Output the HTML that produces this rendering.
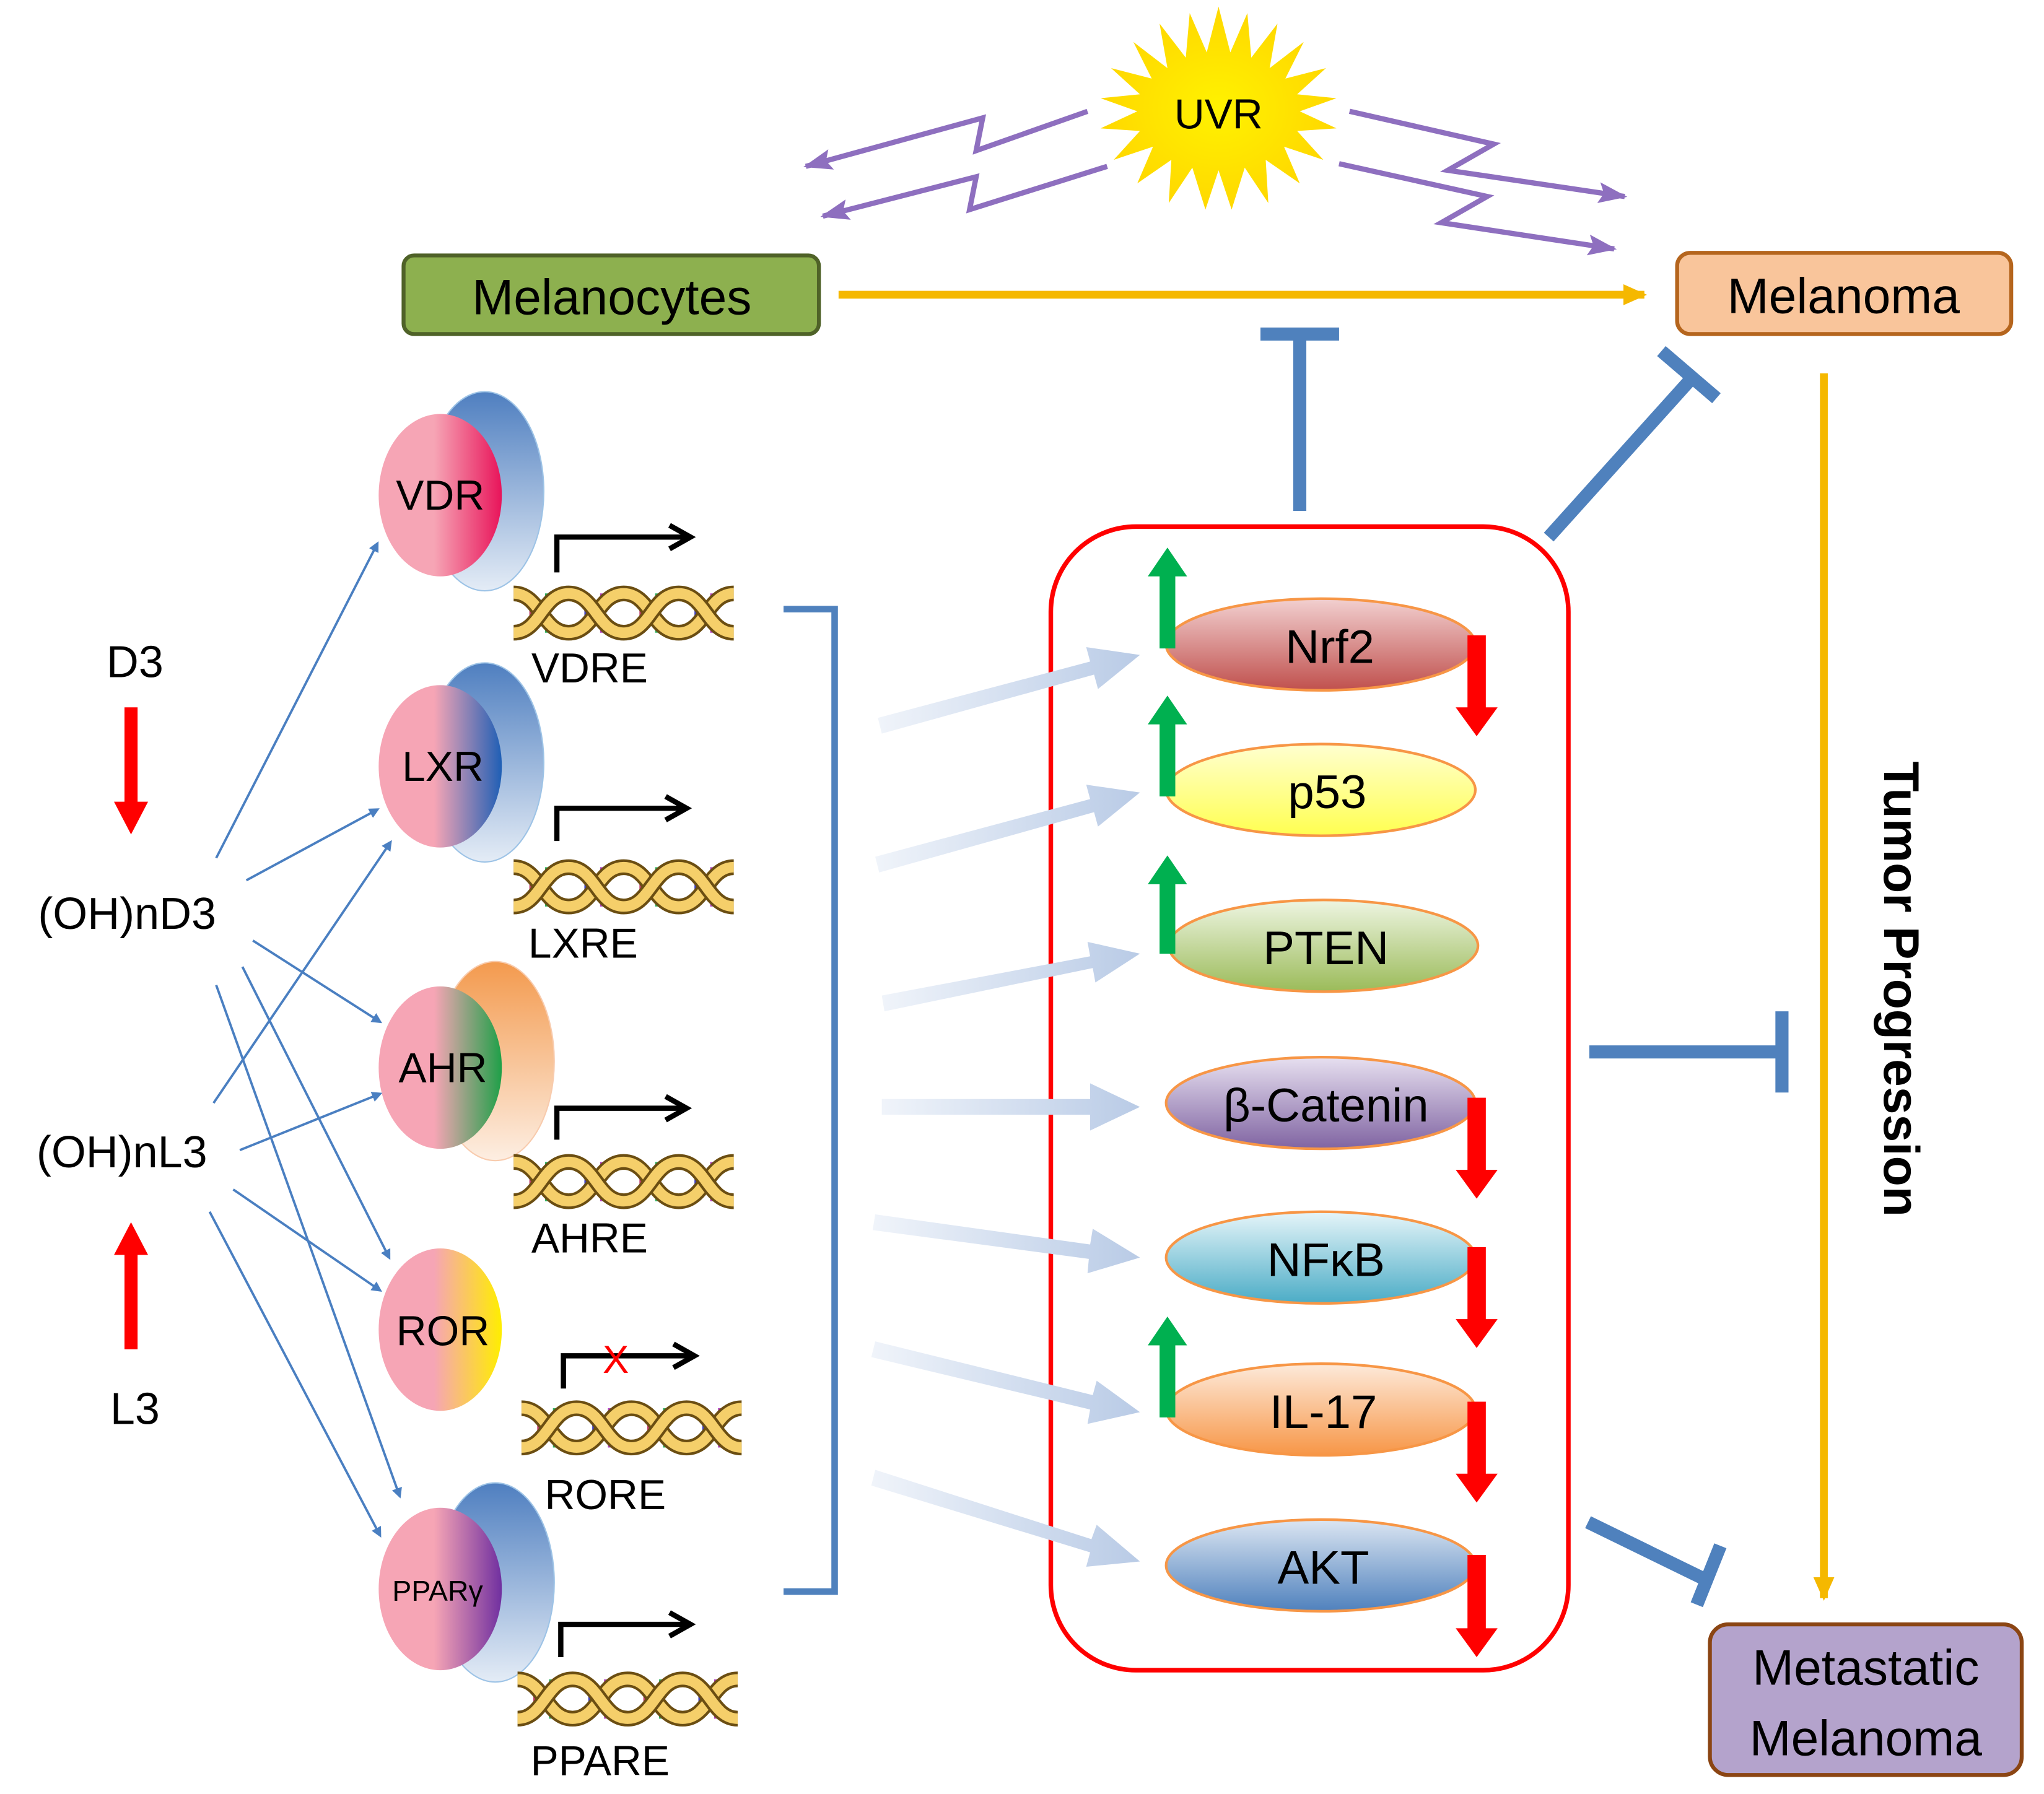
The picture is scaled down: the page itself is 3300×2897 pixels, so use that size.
<!DOCTYPE html>
<html><head><meta charset="utf-8"><style>html,body{margin:0;padding:0;background:#fff}svg{display:block}text{font-family:"Liberation Sans",sans-serif}</style></head><body>
<svg width="3300" height="2897" viewBox="0 0 1560 1369.5" xmlns="http://www.w3.org/2000/svg">
<defs>
<radialGradient id="sun" cx="50%" cy="50%" r="50%"><stop offset="0" stop-color="#fff200"/><stop offset="1" stop-color="#ffd800"/></radialGradient>
<marker id="ah" markerWidth="8" markerHeight="8" refX="6" refY="4" orient="auto" markerUnits="userSpaceOnUse"><path d="M0,0 L8,4 L0,8 Z" fill="#4a7fc1"/></marker>
<marker id="ahp" markerWidth="24" markerHeight="16" refX="20" refY="8" orient="auto" markerUnits="userSpaceOnUse"><path d="M0,0 L22,8 L0,16 L4,8 Z" fill="#8e6fbf"/></marker>
<marker id="ahy" markerWidth="20" markerHeight="20" refX="16" refY="10" orient="auto" markerUnits="userSpaceOnUse"><path d="M0,2 L18,10 L0,18 Z" fill="#f5b800"/></marker>
<marker id="ahk" markerWidth="24" markerHeight="24" refX="18" refY="12" orient="auto" markerUnits="userSpaceOnUse"><path d="M4,3 L20,12 L4,21" fill="none" stroke="#000" stroke-width="4"/></marker>
<linearGradient id="lb" x1="0" y1="0" x2="1" y2="0"><stop offset="0" stop-color="#f0f4fa"/><stop offset="1" stop-color="#b9cbe6"/></linearGradient>
<linearGradient id="gVDR" x1="0" x2="1"><stop offset="0.45" stop-color="#f6a5b5"/><stop offset="1" stop-color="#e8145a"/></linearGradient>
<linearGradient id="gLXR" x1="0" x2="1"><stop offset="0.45" stop-color="#f6a5b5"/><stop offset="1" stop-color="#1f5fb5"/></linearGradient>
<linearGradient id="gAHR" x1="0" x2="1"><stop offset="0.45" stop-color="#f6a5b5"/><stop offset="1" stop-color="#1fa048"/></linearGradient>
<linearGradient id="gROR" x1="0" x2="1"><stop offset="0.45" stop-color="#f6a5b5"/><stop offset="1" stop-color="#ffee00"/></linearGradient>
<linearGradient id="gPPR" x1="0" x2="1"><stop offset="0.45" stop-color="#f6a5b5"/><stop offset="1" stop-color="#7030a0"/></linearGradient>
<linearGradient id="cB" x1="0" y1="0" x2="0" y2="1"><stop offset="0" stop-color="#4f7fc0"/><stop offset="1" stop-color="#e4ecf6"/></linearGradient>
<linearGradient id="cO" x1="0" y1="0" x2="0" y2="1"><stop offset="0" stop-color="#f39a4e"/><stop offset="1" stop-color="#fdeee2"/></linearGradient>
<linearGradient id="eN" x1="0" y1="0" x2="0" y2="1"><stop offset="0" stop-color="#f2d0d0"/><stop offset="1" stop-color="#c0504d"/></linearGradient>
<linearGradient id="eP" x1="0" y1="0" x2="0" y2="1"><stop offset="0" stop-color="#ffffd0"/><stop offset="1" stop-color="#ffff50"/></linearGradient>
<linearGradient id="eT" x1="0" y1="0" x2="0" y2="1"><stop offset="0" stop-color="#eef5e2"/><stop offset="1" stop-color="#9bbb59"/></linearGradient>
<linearGradient id="eC" x1="0" y1="0" x2="0" y2="1"><stop offset="0" stop-color="#e7e0f0"/><stop offset="1" stop-color="#8064a2"/></linearGradient>
<linearGradient id="eF" x1="0" y1="0" x2="0" y2="1"><stop offset="0" stop-color="#e6f5f9"/><stop offset="1" stop-color="#4bacc6"/></linearGradient>
<linearGradient id="eI" x1="0" y1="0" x2="0" y2="1"><stop offset="0" stop-color="#fdeadb"/><stop offset="1" stop-color="#f79646"/></linearGradient>
<linearGradient id="eA" x1="0" y1="0" x2="0" y2="1"><stop offset="0" stop-color="#dce6f2"/><stop offset="1" stop-color="#4f81bd"/></linearGradient>
<g id="dna">
<g stroke-width="4">
<line x1="14" y1="8" x2="14" y2="38" stroke="#c04070"/><line x1="26" y1="8" x2="26" y2="38" stroke="#30b060"/><line x1="56" y1="8" x2="56" y2="38" stroke="#4040c0"/><line x1="68" y1="8" x2="68" y2="38" stroke="#b040c0"/>
<line x1="98" y1="8" x2="98" y2="38" stroke="#c04070"/><line x1="110" y1="8" x2="110" y2="38" stroke="#30b060"/><line x1="140" y1="8" x2="140" y2="38" stroke="#4040c0"/><line x1="152" y1="8" x2="152" y2="38" stroke="#b040c0"/>
</g>
<path d="M0,8 C20,8 22,38 42,38 C62,38 64,8 84,8 C104,8 106,38 126,38 C146,38 148,8 168,8" fill="none" stroke="#6b4e12" stroke-width="12"/>
<path d="M0,8 C20,8 22,38 42,38 C62,38 64,8 84,8 C104,8 106,38 126,38 C146,38 148,8 168,8" fill="none" stroke="#f5cf6a" stroke-width="8"/>
<path d="M0,38 C20,38 22,8 42,8 C62,8 64,38 84,38 C104,38 106,8 126,8 C146,8 148,38 168,38" fill="none" stroke="#6b4e12" stroke-width="12"/>
<path d="M0,38 C20,38 22,8 42,8 C62,8 64,38 84,38 C104,38 106,8 126,8 C146,8 148,38 168,38" fill="none" stroke="#f5cf6a" stroke-width="8"/>
</g>
</defs>

<polygon fill="url(#sun)" points="930,5 939,40 952,10 955,44 975,18 969,52 995,32 981,60 1012,52 990,72 1020,75 992,85 1020,98 990,100 1010,122 980,112 992,140 966,122 968,155 950,128 940,160 930,130 920,160 910,128 892,155 894,122 868,140 880,112 850,122 870,100 840,98 868,85 840,75 870,72 848,52 879,60 865,32 891,52 885,18 905,44 908,10 921,40"/>
<text x="930" y="98" font-size="32" text-anchor="middle">UVR</text>

<g fill="none" stroke="#8e6fbf" stroke-width="4" marker-end="url(#ahp)">
<path d="M830,85 L745,115 L750,90 L615,127"/>
<path d="M845,127 L740,160 L745,135 L628,165"/>
<path d="M1030,85 L1140,110 L1105,130 L1240,150"/>
<path d="M1022,125 L1135,150 L1100,170 L1232,190"/>
</g>

<rect x="308" y="195" width="317" height="60" rx="8" fill="#8db04f" stroke="#4f6228" stroke-width="3"/>
<text x="467" y="240" font-size="38" text-anchor="middle">Melanocytes</text>
<rect x="1280" y="193" width="255" height="62" rx="10" fill="#f9c59b" stroke="#b5651d" stroke-width="3"/>
<text x="1407" y="239" font-size="38" text-anchor="middle">Melanoma</text>
<rect x="1305" y="1240" width="238" height="115" rx="14" fill="#b4a3cc" stroke="#8b4513" stroke-width="3"/>
<text x="1424" y="1286" font-size="38" text-anchor="middle">Metastatic</text>
<text x="1424" y="1340" font-size="38" text-anchor="middle">Melanoma</text>

<line x1="640" y1="225" x2="1255" y2="225" stroke="#f5b800" stroke-width="6" marker-end="url(#ahy)"/>
<line x1="1392" y1="285" x2="1392" y2="1220" stroke="#f5b800" stroke-width="6" marker-end="url(#ahy)"/>
<text transform="translate(1438,755) rotate(90)" font-size="38" font-weight="bold" text-anchor="middle">Tumor Progression</text>

<g stroke="#4f81bd" stroke-width="10" fill="none">
<path d="M992,390 V255 M962,255 H1022"/>
<path d="M1182,410 L1290,290 M1268,268 L1310,304"/>
<path d="M1213,803 H1360 M1360,772 V834"/>
<path d="M1212,1162 L1300,1205 M1313,1180 L1295,1225"/>
<path d="M598,465 H637 V1215 H598" stroke-width="5"/>
</g>

<rect x="802" y="402" width="395" height="873" rx="65" fill="none" stroke="#ff0000" stroke-width="3.5"/>

<g fill="url(#lb)">
<path d="M670,548 L832,505 L829,494 L870,500 L838,526 L835,515 L673,560 Z"/>
<path d="M668,654 L832,610 L829,599 L870,605 L838,631 L835,620 L671,666 Z"/>
<path d="M673,760 L832,730 L830,719 L870,728 L836,750 L834,739 L675,772 Z"/>
<path d="M673,839 L832,839 L832,827 L870,845 L832,863 L832,851 L673,851 Z"/>
<path d="M668,927 L832,950 L834,938 L870,960 L830,972 L831,961 L666,939 Z"/>
<path d="M668,1024 L834,1065 L837,1054 L870,1078 L830,1087 L832,1076 L665,1036 Z"/>
<path d="M668,1122 L833,1175 L837,1164 L870,1192 L829,1196 L832,1185 L665,1134 Z"/>
</g>

<g stroke="#f79646" stroke-width="2">
<ellipse cx="1008" cy="492" rx="118" ry="35" fill="url(#eN)"/>
<ellipse cx="1008" cy="603" rx="118" ry="35" fill="url(#eP)"/>
<ellipse cx="1010" cy="722" rx="118" ry="35" fill="url(#eT)"/>
<ellipse cx="1008" cy="842" rx="118" ry="35" fill="url(#eC)"/>
<ellipse cx="1008" cy="960" rx="118" ry="35" fill="url(#eF)"/>
<ellipse cx="1008" cy="1076" rx="118" ry="35" fill="url(#eI)"/>
<ellipse cx="1008" cy="1195" rx="118" ry="35" fill="url(#eA)"/>
</g>
<g font-size="36" text-anchor="middle">
<text x="1015" y="506">Nrf2</text><text x="1013" y="617">p53</text><text x="1012" y="736">PTEN</text>
<text x="1012" y="856">β-Catenin</text><text x="1012" y="974">NFκB</text><text x="1010" y="1090">IL-17</text><text x="1010" y="1209">AKT</text>
</g>
<g fill="#00b050">
<path d="M885,495 V440 H876 L891,418 L906,440 H897 V495 Z"/>
<path d="M885,608 V553 H876 L891,531 L906,553 H897 V608 Z"/>
<path d="M885,728 V675 H876 L891,653 L906,675 H897 V728 Z"/>
<path d="M885,1082 V1027 H876 L891,1005 L906,1027 H897 V1082 Z"/>
</g>
<g fill="#ff0000">
<path d="M1120,485 V540 H1111 L1127,562 L1143,540 H1134 V485 Z"/>
<path d="M1120,838 V893 H1111 L1127,915 L1143,893 H1134 V838 Z"/>
<path d="M1120,952 V1007 H1111 L1127,1029 L1143,1007 H1134 V952 Z"/>
<path d="M1120,1070 V1125 H1111 L1127,1147 L1143,1125 H1134 V1070 Z"/>
<path d="M1120,1187 V1243 H1111 L1127,1265 L1143,1243 H1134 V1187 Z"/>
</g>

<ellipse cx="370" cy="375" rx="45" ry="76" fill="url(#cB)" stroke="#9dc3e6" stroke-width="1"/>
<ellipse cx="336" cy="378" rx="47" ry="62" fill="url(#gVDR)"/>
<ellipse cx="370" cy="582" rx="45" ry="76" fill="url(#cB)" stroke="#9dc3e6" stroke-width="1"/>
<ellipse cx="336" cy="585" rx="47" ry="62" fill="url(#gLXR)"/>
<ellipse cx="378" cy="810" rx="45" ry="76" fill="url(#cO)" stroke="#f8cbad" stroke-width="1"/>
<ellipse cx="336" cy="815" rx="47" ry="62" fill="url(#gAHR)"/>
<ellipse cx="336" cy="1015" rx="47" ry="62" fill="url(#gROR)"/>
<ellipse cx="378" cy="1208" rx="45" ry="76" fill="url(#cB)" stroke="#9dc3e6" stroke-width="1"/>
<ellipse cx="336" cy="1213" rx="47" ry="62" fill="url(#gPPR)"/>
<g font-size="32" text-anchor="middle">
<text x="336" y="389">VDR</text><text x="338" y="596">LXR</text><text x="338" y="826">AHR</text><text x="338" y="1027">ROR</text>
<text x="334" y="1222" font-size="22">PPARγ</text>
</g>

<g fill="none" stroke="#000" stroke-width="4" marker-end="url(#ahk)">
<path d="M425,437 V410 H525"/>
<path d="M425,642 V617 H522"/>
<path d="M425,870 V846 H522"/>
<path d="M430,1060 V1035 H528"/>
<path d="M428,1265 V1240 H525"/>
</g>
<text x="470" y="1048" font-size="30" fill="#ff0000" text-anchor="middle">X</text>

<use href="#dna" x="392" y="445"/>
<use href="#dna" x="392" y="654"/>
<use href="#dna" x="392" y="879"/>
<use href="#dna" x="398" y="1067"/>
<use href="#dna" x="395" y="1274"/>
<g font-size="32" text-anchor="middle">
<text x="450" y="521">VDRE</text><text x="445" y="731">LXRE</text><text x="450" y="956">AHRE</text><text x="462" y="1152">RORE</text><text x="458" y="1355">PPARE</text>
</g>

<g font-size="34" text-anchor="middle">
<text x="103" y="517">D3</text><text x="97" y="709">(OH)nD3</text><text x="93" y="891">(OH)nL3</text><text x="103" y="1087">L3</text>
</g>
<path d="M95,540 V612 H87 L100,637 L113,612 H105 V540 Z" fill="#ff0000"/>
<path d="M95,1030 V958 H87 L100,933 L113,958 H105 V1030 Z" fill="#ff0000"/>
<g stroke="#4a7fc1" stroke-width="1.8" marker-end="url(#ah)">
<line x1="165" y1="655" x2="288" y2="415"/>
<line x1="188" y1="672" x2="288" y2="618"/>
<line x1="193" y1="718" x2="290" y2="780"/>
<line x1="185" y1="738" x2="297" y2="960"/>
<line x1="165" y1="752" x2="305" y2="1142"/>
<line x1="163" y1="842" x2="298" y2="643"/>
<line x1="183" y1="878" x2="290" y2="835"/>
<line x1="178" y1="908" x2="290" y2="985"/>
<line x1="160" y1="925" x2="290" y2="1172"/>
</g>
</svg>
</body></html>
